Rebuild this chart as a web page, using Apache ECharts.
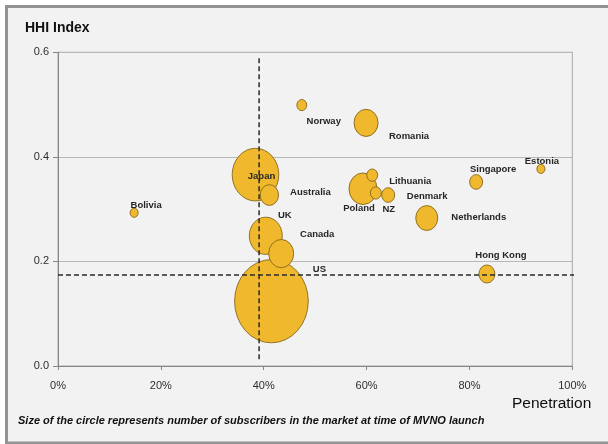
<!DOCTYPE html>
<html>
<head>
<meta charset="utf-8">
<script src="https://cdn.jsdelivr.net/npm/echarts@6/dist/echarts.min.js"></script>
<style>
  html, body { margin: 0; padding: 0; background: #ffffff; }
  #chart { width: 608px; height: 444px; }
</style>
</head>
<body>
<div id="chart"></div>
<script>
// Market concentration (HHI) against mobile penetration when MVNOs launched
const countries   = ['Bolivia', 'Norway', 'Romania', 'Japan', 'Australia', 'UK', 'Canada', 'US',
                     'Poland', 'Lithuania', 'NZ', 'Denmark', 'Netherlands', 'Singapore', 'Estonia', 'Hong Kong'];
const penetration = [14.8, 47.4, 59.9, 38.4, 41.1, 40.4, 43.4, 41.5,
                     59.3, 61.1, 61.8, 64.2, 71.7, 81.3, 93.9, 83.4];
const hhi         = [0.293, 0.499, 0.465, 0.366, 0.327, 0.249, 0.215, 0.124,
                     0.339, 0.365, 0.331, 0.327, 0.283, 0.352, 0.377, 0.176];
// subscribers in the market at launch (millions, approximate)
const subscribers = [1.2, 1.8, 10.6, 40, 6.2, 20, 11.5, 100,
                     14.4, 2.2, 2.2, 3.1, 8.9, 3.1, 1.2, 4.7];

const xTickLabels = ['0%', '20%', '40%', '60%', '80%', '100%'];
const yTickLabels = ['0.0', '0.2', '0.4', '0.6'];

// reference (average) lines
const avgPenetration = 39.1;
const avgHhi = 0.174;
const avgPenetrationSpan = [0.013, 0.59];
const avgHhiSpan = [0, 100.9];

// label placement relative to each bubble centre (px)
const labelOffsets = {
  'Bolivia': [12, -7], 'Japan': [6, 2], 'Australia': [41, -3], 'UK': [19, -20],
  'Canada': [36, -19], 'US': [48, -32], 'Norway': [22, 16], 'Romania': [43, 13],
  'Lithuania': [38, 6], 'Poland': [-4, 20], 'NZ': [13, 16], 'Denmark': [39, 1],
  'Netherlands': [52, -1], 'Singapore': [17, -13], 'Estonia': [1, -8], 'Hong Kong': [14, -19]
};

const BUBBLE_SCALE = 7.37;   // px width per sqrt(million subscribers)
const BUBBLE_ASPECT = 1.13;

// biggest first so smaller bubbles sit on top
const order = countries.map((c, i) => i).sort((a, b) => subscribers[b] - subscribers[a]);
const bubbles = order.map(i => ({
  name: countries[i],
  value: [penetration[i], hhi[i], subscribers[i]]
}));

const chart = echarts.init(document.getElementById('chart'), null, { renderer: 'canvas' });

const axisGrey = '#868686';
const textGrey = '#2e2e2e';
const dashed = { color: '#2b2b2b', width: 1.5, type: [5, 3] };

chart.setOption({
  backgroundColor: '#ffffff',
  animation: false,
  graphic: [
    {
      type: 'rect', z: -10, silent: true,
      shape: { x: 6.5, y: 6.5, width: 620, height: 436.5 },
      style: { fill: '#f2f2f2', stroke: '#939393', lineWidth: 3 }
    },
    {
      type: 'text', left: 25, top: 21, z: 10,
      style: { text: 'HHI Index', font: 'bold 14px "Liberation Sans", Arial, sans-serif', fill: '#111111' }
    },
    {
      type: 'text', left: 512, top: 396, z: 10,
      style: { text: 'Penetration', font: '15.5px "Liberation Sans", Arial, sans-serif', fill: '#0d0d0d' }
    },
    {
      type: 'text', left: 18, top: 415, z: 10,
      style: {
        text: 'Size of the circle represents number of subscribers in the market at time of MVNO launch',
        font: 'italic bold 11px "Liberation Sans", Arial, sans-serif', fill: '#111111'
      }
    }
  ],
  grid: {
    left: 58, right: 35.7, top: 52.3, bottom: 78,
    show: true, borderColor: '#a8a8a8', borderWidth: 1, backgroundColor: 'transparent'
  },
  xAxis: {
    type: 'value', min: 0, max: 100, interval: 20,
    axisLine: { show: true, lineStyle: { color: axisGrey, width: 1 } },
    axisTick: { show: true, length: 4, lineStyle: { color: axisGrey } },
    splitLine: { show: false },
    axisLabel: {
      margin: 14, fontSize: 11, color: textGrey,
      fontFamily: '"Liberation Sans", Arial, sans-serif',
      formatter: v => xTickLabels[Math.round(v / 20)]
    }
  },
  yAxis: {
    type: 'value', min: 0, max: 0.6, interval: 0.2,
    axisLine: { show: true, lineStyle: { color: axisGrey, width: 1 } },
    axisTick: { show: true, length: 5, lineStyle: { color: axisGrey } },
    splitLine: { show: true, lineStyle: { color: '#b8b8b8', width: 1 } },
    axisLabel: {
      margin: 9, fontSize: 11, color: textGrey,
      fontFamily: '"Liberation Sans", Arial, sans-serif',
      formatter: v => yTickLabels[Math.round(v / 0.2)]
    }
  },
  series: [
    {
      type: 'scatter',
      z: 3,
      data: bubbles,
      symbol: 'circle',
      symbolSize: v => {
        const w = BUBBLE_SCALE * Math.sqrt(v[2]);
        return [w, w * BUBBLE_ASPECT];
      },
      itemStyle: { color: '#f0b82d', borderColor: '#86671a', borderWidth: 0.9, opacity: 1 },
      label: {
        show: true, position: 'inside', formatter: '{b}',
        fontSize: 9.5, fontWeight: 'bold', color: '#262626',
        fontFamily: '"Liberation Sans", Arial, sans-serif'
      },
      labelLayout: params => {
        const off = labelOffsets[bubbles[params.dataIndex].name] || [0, 0];
        return { dx: off[0], dy: off[1], hideOverlap: false };
      },
      emphasis: { disabled: true }
    },
    {
      type: 'line', z: 5, silent: true, clip: false,
      symbol: 'none',
      data: [[avgPenetration, avgPenetrationSpan[0]], [avgPenetration, avgPenetrationSpan[1]]],
      lineStyle: dashed
    },
    {
      type: 'line', z: 5, silent: true, clip: false,
      symbol: 'none',
      data: [[avgHhiSpan[0], avgHhi], [avgHhiSpan[1], avgHhi]],
      lineStyle: dashed
    }
  ]
});
</script>
</body>
</html>
